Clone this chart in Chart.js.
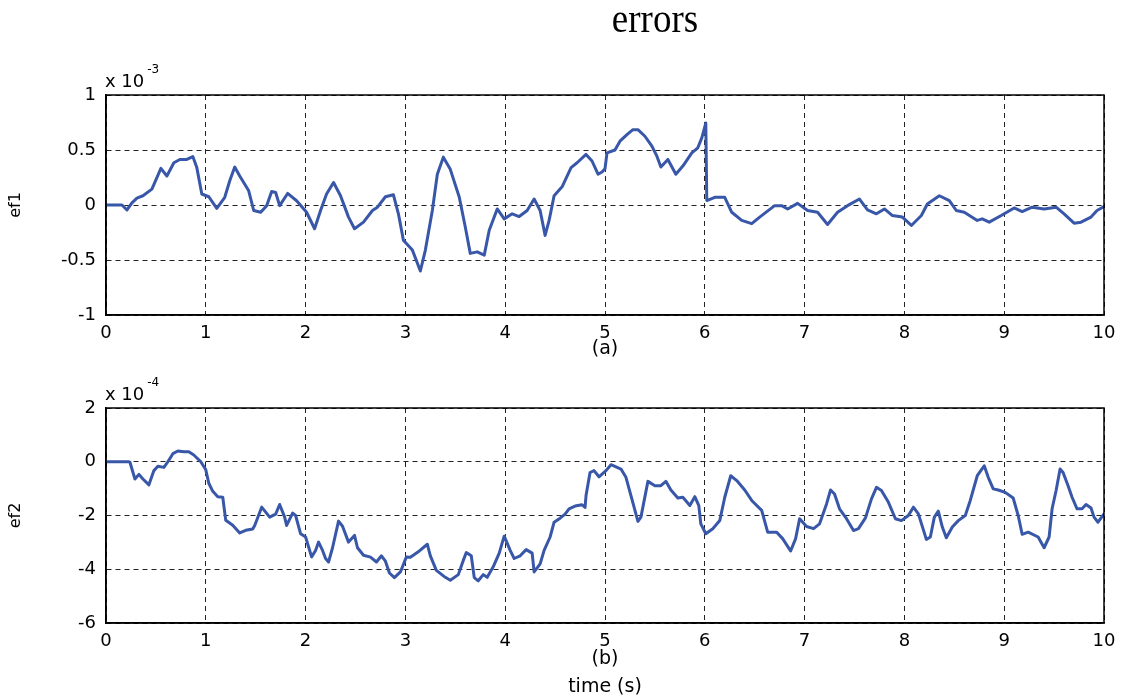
<!DOCTYPE html>
<html>
<head>
<meta charset="utf-8">
<title>errors</title>
<script src="https://cdn.jsdelivr.net/npm/chart.js@4.4.0/dist/chart.umd.min.js"></script>
<style>
  html, body { margin: 0; padding: 0; background: #fff; }
  #wrap { position: relative; width: 1124px; height: 697px; overflow: hidden; }
  canvas { position: absolute; left: 0; }
  #chartA { top: 0; }
  #chartB { top: 380px; }
  .fig-title {
    position: absolute; left: 555px; width: 200px; top: -1px;
    text-align: center; font: 37px 'Liberation Serif', serif; line-height: 40px;
    transform: scaleY(1.06);
  }
  .expo { position: absolute; left: 105px; font: 18px 'DejaVu Sans', sans-serif; line-height: 20px; white-space: nowrap; }
  .expo .sup { position: relative; top: -14px; font-size: 12px; margin-left: 3px; }
</style>
</head>
<body>
<div id="wrap">
  <canvas id="chartA" width="1124" height="380"></canvas>
  <canvas id="chartB" width="1124" height="317"></canvas>
  <div class="fig-title">errors</div>
  <div class="expo" style="top:71px">x 10<span class="sup">-3</span></div>
  <div class="expo" style="top:384px">x 10<span class="sup">-4</span></div>
</div>
<script>
// (a) ef1, values shown in units of 1e-3
const ef1Time = [
  0, 0.16, 0.21, 0.26, 0.31, 0.37, 0.46, 0.55, 0.61, 0.68,
  0.74, 0.81, 0.87, 0.91, 0.96, 1.03, 1.11, 1.19, 1.24, 1.29,
  1.34, 1.43, 1.48, 1.55, 1.61, 1.66, 1.70, 1.74, 1.82, 1.91,
  2.01, 2.09, 2.15, 2.21, 2.28, 2.35, 2.43, 2.49, 2.58, 2.67,
  2.72, 2.80, 2.88, 2.93, 2.98, 3.07, 3.15, 3.20, 3.27, 3.32,
  3.38, 3.45, 3.54, 3.60, 3.65, 3.72, 3.79, 3.84, 3.92, 3.99,
  4.07, 4.14, 4.22, 4.29, 4.35, 4.40, 4.44, 4.49, 4.57, 4.66,
  4.72, 4.81, 4.87, 4.93, 4.97, 5.00, 5.02, 5.10, 5.15, 5.22,
  5.28, 5.33, 5.40, 5.47, 5.52, 5.56, 5.63, 5.71, 5.78, 5.87,
  5.93, 5.97, 6.01, 6.02, 6.10, 6.20, 6.27, 6.37, 6.47, 6.55,
  6.70, 6.77, 6.83, 6.93, 7.03, 7.13, 7.23, 7.33, 7.43, 7.55,
  7.63, 7.72, 7.80, 7.88, 7.98, 8.07, 8.17, 8.23, 8.35, 8.45,
  8.52, 8.60, 8.73, 8.78, 8.85, 8.97, 9.10, 9.18, 9.28, 9.40,
  9.52, 9.60, 9.70, 9.77, 9.87, 9.93, 10.0
];
const ef1Value = [
  0, 0, -0.045, 0.02, 0.063, 0.084, 0.144, 0.333, 0.264, 0.384,
  0.414, 0.414, 0.44, 0.34, 0.10, 0.075, -0.03, 0.07, 0.22, 0.345,
  0.264, 0.129, -0.05, -0.066, -0.006, 0.123, 0.114, -0.006, 0.105, 0.039,
  -0.066, -0.216, -0.05, 0.10, 0.204, 0.084, -0.11, -0.216, -0.156, -0.05,
  -0.02, 0.075, 0.093, -0.08, -0.32, -0.41, -0.60, -0.41, -0.05, 0.28,
  0.435, 0.324, 0.07, -0.20, -0.44, -0.426, -0.456, -0.23, -0.036, -0.126,
  -0.08, -0.105, -0.05, 0.054, -0.05, -0.276, -0.14, 0.084, 0.165, 0.34,
  0.384, 0.46, 0.40, 0.28, 0.30, 0.33, 0.474, 0.50, 0.58, 0.64,
  0.685, 0.685, 0.625, 0.535, 0.444, 0.345, 0.414, 0.28, 0.354, 0.474,
  0.52, 0.61, 0.745, 0.04, 0.07, 0.07, -0.066, -0.14, -0.17, -0.11,
  -0.006, -0.006, -0.036, 0.015, -0.05, -0.066, -0.177, -0.066, -0.006, 0.054,
  -0.045, -0.08, -0.036, -0.096, -0.11, -0.186, -0.096, 0.009, 0.084, 0.039,
  -0.05, -0.066, -0.14, -0.126, -0.156, -0.096, -0.027, -0.06, -0.02, -0.036,
  -0.02, -0.08, -0.165, -0.156, -0.11, -0.05, -0.015
];

// (b) ef2, values shown in units of 1e-4
const ef2Time = [
  0, 0.23, 0.24, 0.29, 0.33, 0.37, 0.43, 0.48, 0.52, 0.58,
  0.62, 0.67, 0.72, 0.78, 0.83, 0.88, 0.95, 1.00, 1.03, 1.07,
  1.12, 1.17, 1.20, 1.27, 1.34, 1.40, 1.47, 1.49, 1.56, 1.64,
  1.70, 1.74, 1.79, 1.81, 1.87, 1.90, 1.95, 2.00, 2.06, 2.10,
  2.13, 2.17, 2.20, 2.23, 2.27, 2.33, 2.37, 2.43, 2.49, 2.52,
  2.58, 2.65, 2.71, 2.76, 2.80, 2.84, 2.89, 2.95, 3.01, 3.05,
  3.14, 3.22, 3.25, 3.31, 3.40, 3.45, 3.53, 3.58, 3.61, 3.66,
  3.69, 3.73, 3.78, 3.82, 3.88, 3.94, 3.99, 4.05, 4.09, 4.15,
  4.21, 4.27, 4.29, 4.35, 4.39, 4.45, 4.49, 4.55, 4.60, 4.64,
  4.70, 4.77, 4.80, 4.81, 4.85, 4.89, 4.94, 5.01, 5.06, 5.16,
  5.21, 5.26, 5.33, 5.36, 5.43, 5.50, 5.56, 5.61, 5.66, 5.73,
  5.78, 5.85, 5.90, 5.94, 5.96, 6.01, 6.08, 6.15, 6.20, 6.26,
  6.32, 6.40, 6.47, 6.57, 6.63, 6.72, 6.78, 6.86, 6.91, 6.95,
  7.02, 7.09, 7.15, 7.22, 7.26, 7.30, 7.35, 7.42, 7.49, 7.54,
  7.61, 7.67, 7.72, 7.77, 7.84, 7.91, 7.97, 8.04, 8.09, 8.14,
  8.22, 8.26, 8.30, 8.34, 8.38, 8.42, 8.48, 8.54, 8.61, 8.66,
  8.73, 8.80, 8.84, 8.89, 8.94, 9.01, 9.09, 9.14, 9.18, 9.24,
  9.34, 9.40, 9.45, 9.48, 9.52, 9.56, 9.59, 9.64, 9.68, 9.73,
  9.78, 9.82, 9.87, 9.90, 9.94, 10.0
];
const ef2Value = [
  0, 0, -0.02, -0.64, -0.47, -0.64, -0.86, -0.33, -0.17, -0.21,
  0.0, 0.30, 0.40, 0.37, 0.37, 0.25, 0.0, -0.3, -0.8, -1.1,
  -1.3, -1.32, -2.18, -2.36, -2.65, -2.55, -2.5, -2.37, -1.69, -2.06,
  -1.95, -1.59, -2.06, -2.37, -1.91, -2.0, -2.68, -2.8, -3.54, -3.3,
  -2.99, -3.3, -3.6, -3.73, -3.2, -2.21, -2.4, -2.99, -2.74, -3.2,
  -3.48, -3.55, -3.73, -3.5, -3.7, -4.14, -4.31, -4.1, -3.54, -3.55,
  -3.32, -3.07, -3.5, -4.04, -4.3, -4.41, -4.2, -3.67, -3.38, -3.5,
  -4.31, -4.43, -4.2, -4.3, -3.91, -3.4, -2.77, -3.3, -3.6, -3.5,
  -3.27, -3.4, -4.1, -3.8, -3.3, -2.8, -2.25, -2.1, -1.95, -1.75,
  -1.65, -1.6, -1.7, -1.26, -0.40, -0.33, -0.56, -0.33, -0.11, -0.27,
  -0.58, -1.26, -2.22, -2.06, -0.73, -0.89, -0.89, -0.73, -1.05, -1.35,
  -1.32, -1.63, -1.30, -1.63, -2.31, -2.68, -2.49, -2.19, -1.32, -0.52,
  -0.70, -1.05, -1.44, -1.81, -2.62, -2.62, -2.86, -3.32, -2.86, -2.12,
  -2.41, -2.49, -2.31, -1.57, -1.05, -1.20, -1.75, -2.12, -2.56, -2.49,
  -2.09, -1.38, -0.95, -1.07, -1.51, -2.12, -2.19, -2.00, -1.69, -1.94,
  -2.89, -2.80, -2.06, -1.84, -2.43, -2.83, -2.43, -2.19, -2.00, -1.44,
  -0.52, -0.15, -0.58, -1.01, -1.05, -1.14, -1.35, -2.00, -2.70, -2.62,
  -2.80, -3.20, -2.80, -1.75, -1.07, -0.27, -0.40, -0.89, -1.32, -1.75,
  -1.75, -1.59, -1.72, -2.06, -2.25, -1.94
];

// tick values
const timeTicks = [0, 1, 2, 3, 4, 5, 6, 7, 8, 9, 10];
const ef1Ticks = [-1, -0.5, 0, 0.5, 1];
const ef2Ticks = [-6, -4, -2, 0, 2];

const LINE_COLOR = '#3957a8';
const TICK_FONT = { family: "'DejaVu Sans', sans-serif", size: 18 };

// draws the closed box around the plot area (matlab style axes)
const framePlugin = {
  id: 'frame',
  afterDraw(chart) {
    const { ctx, chartArea: a } = chart;
    ctx.save();
    ctx.strokeStyle = '#000';
    ctx.lineWidth = 1.5;
    ctx.strokeRect(a.left, a.top, a.right - a.left, a.bottom - a.top);
    ctx.restore();
  }
};

function toPoints(xs, ys) {
  return xs.map((x, i) => ({ x: x, y: ys[i] }));
}

function makeChart(id, cfg) {
  const grid = { color: '#222', lineWidth: 1, drawTicks: false };
  const border = { display: true, color: '#000', width: 1.5, dash: [5, 4] };

  return new Chart(document.getElementById(id), {
    type: 'line',
    data: {
      datasets: [{
        data: toPoints(cfg.xs, cfg.ys),
        borderColor: LINE_COLOR,
        borderWidth: 3,
        pointRadius: 0,
        tension: 0,
        fill: false,
        borderJoinStyle: 'round',
        borderCapStyle: 'round'
      }]
    },
    options: {
      responsive: false,
      animation: false,
      devicePixelRatio: 1,
      layout: { padding: { top: cfg.padTop, right: 20, left: 0, bottom: 0 } },
      plugins: { legend: { display: false }, tooltip: { enabled: false } },
      scales: {
        x: {
          type: 'linear',
          min: 0,
          max: 10,
          grid: grid,
          border: border,
          afterBuildTicks: s => { s.ticks = timeTicks.map(v => ({ value: v })); },
          afterFit: s => { s.height = cfg.xHeight; },
          ticks: { color: '#000', font: TICK_FONT, padding: 8, maxRotation: 0, callback: v => String(v) },
          title: {
            display: true,
            text: cfg.xTitle,
            color: '#000',
            font: { family: "'DejaVu Sans', sans-serif", size: 19, lineHeight: 1.47 },
            padding: { top: 0, bottom: cfg.xTitlePad }
          }
        },
        y: {
          type: 'linear',
          min: cfg.yMin,
          max: cfg.yMax,
          grid: grid,
          border: border,
          afterBuildTicks: s => { s.ticks = cfg.yTicks.map(v => ({ value: v })); },
          afterFit: s => { s.width = 106; },
          ticks: { color: '#000', font: TICK_FONT, padding: 10, callback: v => String(v) },
          title: {
            display: true,
            text: cfg.yTitle,
            color: '#000',
            font: { family: "'DejaVu Sans', sans-serif", size: 16 },
            padding: { top: 6, bottom: 0 }
          }
        }
      }
    },
    plugins: [framePlugin]
  });
}

makeChart('chartA', {
  xs: ef1Time, ys: ef1Value,
  yMin: -1, yMax: 1, yTicks: ef1Ticks,
  yTitle: 'ef1', xTitle: '(a)',
  padTop: 95, xHeight: 65, xTitlePad: 17
});

makeChart('chartB', {
  xs: ef2Time, ys: ef2Value,
  yMin: -6, yMax: 2, yTicks: ef2Ticks,
  yTitle: 'ef2', xTitle: ['(b)', 'time (s)'],
  padTop: 28, xHeight: 74, xTitlePad: -4
});
</script>
</body>
</html>
